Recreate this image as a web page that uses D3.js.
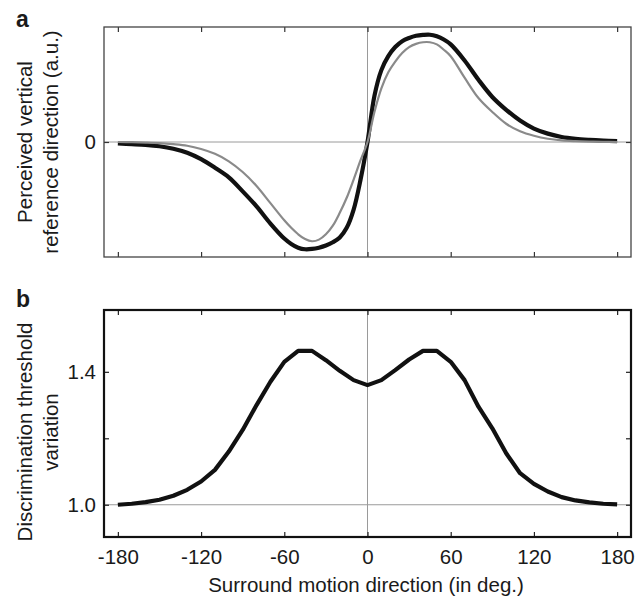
<!DOCTYPE html>
<html>
<head>
<meta charset="utf-8">
<script src="https://cdn.jsdelivr.net/npm/d3@7"></script>
<style>
  body { margin: 0; background: #fff; }
  svg { display: block; }
  text { font-family: "Liberation Sans", Arial, Helvetica, sans-serif; fill: #1a1a1a; }
</style>
</head>
<body>
<div id="grafico"></div>
<script>
// panel a: angles (deg) and the two curves (a.u.)
var angulosA = [-180, -170, -160, -150, -140, -130, -120, -110, -100, -90, -80, -70,
    -60, -55, -50, -45, -40, -35, -30, -25, -20, -15, -10, -5, 0,
    5, 10, 15, 20, 25, 30, 35, 40, 45, 50, 55, 60,
    70, 80, 90, 100, 110, 120, 130, 140, 150, 160, 170, 180];
var curvaNegra = [-0.014, -0.02, -0.027, -0.04, -0.063, -0.1, -0.16, -0.24, -0.33, -0.46, -0.6, -0.76,
    -0.9, -0.95, -0.985, -1.0, -0.997, -0.985, -0.965, -0.935, -0.89, -0.8, -0.63, -0.35, 0,
    0.43, 0.67, 0.8, 0.885, 0.94, 0.97, 0.99, 0.998, 1.0, 0.985, 0.955, 0.91,
    0.76, 0.58, 0.42, 0.3, 0.2, 0.125, 0.078, 0.047, 0.03, 0.02, 0.013, 0.008];
var curvaGris = [0, -0.002, -0.005, -0.01, -0.02, -0.035, -0.065, -0.11, -0.18, -0.28, -0.41, -0.57,
    -0.73, -0.8, -0.86, -0.905, -0.925, -0.91, -0.86, -0.78, -0.66, -0.52, -0.35, -0.17, 0,
    0.28, 0.5, 0.65, 0.75, 0.83, 0.885, 0.915, 0.93, 0.93, 0.91, 0.86, 0.8,
    0.6, 0.41, 0.28, 0.17, 0.1, 0.058, 0.03, 0.015, 0.008, 0.004, 0.002, 0];

// panel b: threshold variation every 10 deg
var angulosB = [-180, -170, -160, -150, -140, -130, -120, -110, -100, -90, -80, -70, -60, -50, -40, -30, -20, -10,
    0, 10, 20, 30, 40, 50, 60, 70, 80, 90, 100, 110, 120, 130, 140, 150, 160, 170, 180];
var umbral = [1.0, 1.003, 1.008, 1.015, 1.027, 1.045, 1.07, 1.105, 1.16, 1.225, 1.3, 1.37, 1.43, 1.463, 1.463, 1.435, 1.403, 1.375,
    1.36, 1.375, 1.405, 1.437, 1.463, 1.463, 1.43, 1.375, 1.295, 1.23, 1.155, 1.095, 1.063, 1.04, 1.023, 1.013, 1.007, 1.003, 1.001];

var ticksX = [-180, -120, -60, 0, 60, 120, 180];
var ticksYA = [0];
var ticksYB = [1.0, 1.2, 1.4];
var etiquetasYB = ["1.0", "", "1.4"];

var w = 638,
    h = 600;

var izq = 104, der = 631;
var arribaA = 27, abajoA = 257;
var arribaB = 310, abajoB = 537;

var fontSize = "20.5px";

var svg = d3.select("#grafico")
    .append("svg")
    .attr("width", w)
    .attr("height", h);

var x = d3.scaleLinear().domain([-190, 190]).range([izq, der]);
var yA = d3.scaleLinear().domain([-1.072, 1.072]).range([abajoA, arribaA]);
var yB = d3.scaleLinear().domain([0.903, 1.586]).range([abajoB, arribaB]);

function ejes(g, y, arriba, abajo, yTicks, yFormat, conEtiquetasX, color) {
    //REFERENCE LINES
    g.append("line")
        .attr("x1", izq).attr("x2", der)
        .attr("y1", y(yTicks[0])).attr("y2", y(yTicks[0]))
        .attr("stroke", "#9a9a9a").attr("stroke-width", 1);
    g.append("line")
        .attr("x1", x(0)).attr("x2", x(0))
        .attr("y1", arriba).attr("y2", abajo)
        .attr("stroke", "#9a9a9a").attr("stroke-width", 1);

    var abajoEje = g.append("g")
        .attr("transform", "translate(0," + abajo + ")")
        .call(d3.axisBottom(x).tickValues(ticksX).tickSize(-5).tickPadding(12)
            .tickFormat(conEtiquetasX ? function(d) { return String(d); } : ""));
    var arribaEje = g.append("g")
        .attr("transform", "translate(0," + arriba + ")")
        .call(d3.axisTop(x).tickValues(ticksX).tickSize(-5).tickFormat(""));
    var izqEje = g.append("g")
        .attr("transform", "translate(" + izq + ",0)")
        .call(d3.axisLeft(y).tickValues(yTicks).tickSize(-5).tickPadding(8).tickFormat(yFormat));
    var derEje = g.append("g")
        .attr("transform", "translate(" + der + ",0)")
        .call(d3.axisRight(y).tickValues(yTicks).tickSize(-5).tickFormat(""));

    [abajoEje, arribaEje, izqEje, derEje].forEach(function(e) {
        e.select(".domain").remove();
        e.selectAll(".tick line").attr("stroke", color).attr("stroke-width", 1.2);
        e.selectAll(".tick text")
            .attr("font-family", null)
            .style("font-size", fontSize)
            .attr("fill", "#1a1a1a");
    });
}

function marco(g, arriba, abajo, color, grosor) {
    g.append("rect")
        .attr("x", izq).attr("y", arriba)
        .attr("width", der - izq).attr("height", abajo - arriba)
        .attr("fill", "none")
        .attr("stroke", color)
        .attr("stroke-width", grosor);
}

//PANEL A
var gA = svg.append("g");
ejes(gA, yA, arribaA, abajoA, ticksYA, function(d) { return String(d); }, false, "#333");

var lineaA = function(valores) {
    return d3.line()
        .x(function(d, i) { return x(angulosA[i]); })
        .y(function(d) { return yA(d); })
        .curve(d3.curveCatmullRom.alpha(0.5))(valores);
};

gA.append("path")
    .attr("d", lineaA(curvaNegra))
    .attr("fill", "none")
    .attr("stroke", "#111")
    .attr("stroke-width", 4.2);

gA.append("path")
    .attr("d", lineaA(curvaGris))
    .attr("fill", "none")
    .attr("stroke", "#8a8a8a")
    .attr("stroke-width", 2.2);

marco(gA, arribaA, abajoA, "#444", 1.3);

//PANEL B
var gB = svg.append("g");
ejes(gB, yB, arribaB, abajoB, ticksYB, function(d, i) { return etiquetasYB[i]; }, true, "#222");

gB.append("path")
    .attr("d", d3.line()
        .x(function(d, i) { return x(angulosB[i]); })
        .y(function(d) { return yB(d); })(umbral))
    .attr("fill", "none")
    .attr("stroke", "#111")
    .attr("stroke-width", 4.2)
    .attr("stroke-linejoin", "round");

marco(gB, arribaB, abajoB, "#111", 2.2);

//TEXT
svg.append("text")
    .attr("x", 16).attr("y", 26.5)
    .attr("font-weight", "bold")
    .style("font-size", "23px")
    .text("a");
svg.append("text")
    .attr("x", 16).attr("y", 307)
    .attr("font-weight", "bold")
    .style("font-size", "23px")
    .text("b");

function tituloY(lineas, cy) {
    var bases = [32, 58];
    lineas.forEach(function(t, i) {
        svg.append("text")
            .attr("transform", "translate(" + bases[i] + "," + cy + ") rotate(-90)")
            .attr("text-anchor", "middle")
            .style("font-size", fontSize)
            .text(t);
    });
}
tituloY(["Perceived vertical", "reference direction (a.u.)"], (arribaA + abajoA) / 2);
tituloY(["Discrimination threshold", "variation"], 432);

svg.append("text")
    .attr("x", 366).attr("y", 592)
    .attr("text-anchor", "middle")
    .style("font-size", fontSize)
    .text("Surround motion direction (in deg.)");
</script>
</body>
</html>
